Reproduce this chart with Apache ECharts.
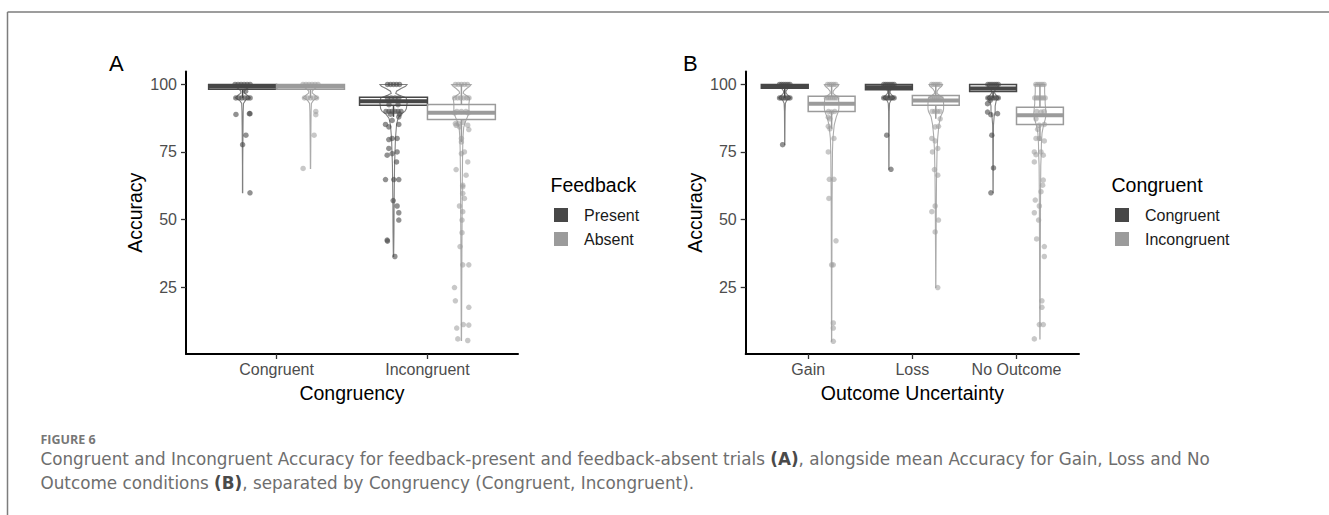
<!DOCTYPE html>
<html><head><meta charset="utf-8">
<script src="https://cdn.jsdelivr.net/npm/echarts@6/dist/echarts.min.js"></script>
<style>html,body{margin:0;padding:0;background:#fff}#c{width:1329px;height:515px}</style>
</head><body><div id="c"></div>
<script>
// ---------- categories / groups / ticks ----------
const catsA = ['Congruent', 'Incongruent'];
const groupsA = ['Present', 'Absent'];
const catsB = ['Gain', 'Loss', 'No Outcome'];
const groupsB = ['Congruent', 'Incongruent'];
const yTickValues = [25, 50, 75, 100];

// ---------- box stats: [lowWhisker, q1, median, q3, highWhisker] per category ----------
const boxA_Present = [[95, 98.2, 99.2, 100, 100], [88, 92.3, 93.8, 95.3, 95.3]];
const boxA_Absent = [[95, 98.2, 99.2, 100, 100], [78.7, 87, 89.5, 92.6, 100]];
const boxB_Congruent = [[95, 98.6, 99.3, 100, 100], [95, 98, 99, 100, 100], [95, 97.4, 98.5, 100, 100]];
const boxB_Incongruent = [[83.6, 90, 92.9, 95.6, 100], [87.3, 92.3, 94.1, 95.9, 100], [79.1, 85.2, 88.6, 91.6, 100]];

// ---------- violin outlines: [accuracy, relative half-density] ----------
const violA_Pres_Con = [[100,0.06],[99.3,0.05],[98.5,0.03],[97.6,0.012],[96.8,0.012],[96,0.03],[95,0.05],[94.2,0.02],[93,0.006],[90,0.004],[85,0.003],[78,0.002],[70,0.001],[59.9,0.001]];
const violA_Pres_Inc = [[100,0.09],[99.3,0.08],[98.5,0.05],[97.5,0.02],[96.7,0.015],[96,0.04],[95,0.085],[93,0.09],[91,0.085],[90,0.075],[89,0.05],[87.5,0.03],[85,0.02],[80,0.013],[75,0.01],[70,0.007],[65,0.006],[55,0.004],[45,0.003],[36.3,0.001]];
const violA_Abs_Con = [[100,0.06],[99.3,0.05],[98.5,0.03],[97.6,0.012],[96.8,0.012],[96,0.03],[95,0.05],[94.2,0.02],[93,0.006],[90,0.004],[85,0.003],[78,0.002],[68.9,0.001]];
const violA_Abs_Inc = [[100,0.065],[99.3,0.055],[98.5,0.035],[97.5,0.015],[96.7,0.012],[96,0.03],[95,0.055],[93,0.05],[91,0.05],[89.5,0.05],[88,0.04],[86,0.025],[84,0.015],[80,0.01],[75,0.008],[65,0.006],[55,0.005],[45,0.004],[35,0.003],[20,0.002],[5.2,0.001]];
const violB_Con_Gain = [[100,0.06],[99.3,0.05],[98.5,0.03],[97.6,0.012],[96.8,0.012],[96,0.03],[95,0.06],[94.2,0.02],[93,0.006],[90,0.003],[85,0.002],[77.7,0.001]];
const violB_Con_Loss = [[100,0.06],[99.3,0.05],[98.5,0.03],[97.6,0.012],[96.8,0.012],[96,0.03],[95,0.06],[94.2,0.02],[93,0.006],[90,0.003],[80,0.002],[68.6,0.001]];
const violB_Con_NoOut = [[100,0.06],[99.3,0.05],[98.5,0.03],[97.6,0.015],[96.8,0.015],[96,0.03],[95,0.06],[94,0.03],[92,0.02],[90,0.02],[88,0.01],[85,0.004],[80,0.003],[70,0.002],[59.9,0.001]];
const violB_Inc_Gain = [[100,0.07],[99.3,0.06],[98.5,0.035],[97.5,0.015],[96.7,0.013],[96,0.035],[95,0.065],[93,0.07],[91,0.07],[90,0.065],[88,0.045],[85,0.025],[80,0.012],[75,0.008],[65,0.006],[55,0.004],[40,0.003],[20,0.002],[4.9,0.001]];
const violB_Inc_Loss = [[100,0.065],[99.3,0.055],[98.5,0.03],[97.5,0.013],[96.7,0.012],[96,0.035],[95,0.07],[93,0.075],[91,0.075],[90,0.07],[88,0.045],[85,0.03],[80,0.018],[75,0.012],[65,0.007],[50,0.004],[35,0.002],[24.8,0.001]];
const violB_Inc_NoOut = [[100,0.05],[99.3,0.045],[98,0.045],[97,0.045],[96,0.047],[95,0.05],[93,0.05],[91,0.055],[89,0.06],[87,0.05],[85,0.035],[82,0.02],[78,0.014],[74,0.012],[70,0.008],[60,0.006],[50,0.005],[40,0.004],[25,0.003],[15,0.002],[5.8,0.001]];

// ---------- participant points: [accuracy, jitter] ----------
const ptsA_Pres_Con = [[100,-0.05],[100,-0.03],[100,-0.01],[100,0.01],[100,0.03],[100,0.05],[97.5,0.02],
  [95,-0.045],[95,-0.025],[95,-0.005],[95,0.015],[95,0.035],[95,0.05],
  [88.9,-0.044],[89.2,0.049],[89.2,0.045],[81.2,0.022],[77.7,0],[59.9,0.049]];
const ptsA_Pres_Inc = [[100,-0.04],[100,-0.02],[100,0],[100,0.02],[100,0.04],
  [95,-0.04],[95,-0.015],[95,0.01],[95,0.035],[92.5,-0.03],[92.5,0.03],
  [90,-0.05],[90,-0.03],[90,-0.01],[90,0.01],[90,0.03],[90,0.05],[89,-0.02],[89,0.04],
  [88,0.035],[86.7,-0.009],[85.2,-0.053],[85.2,0.035],[84.3,-0.031],[80,-0.009],[80,0.024],[79.6,-0.031],
  [76.3,-0.031],[75,0.024],[74.4,-0.009],[73.8,-0.042],[71.3,0.02],[64.8,-0.053],[64.8,0.002],[64.8,0.035],
  [57,-0.002],[55,0.024],[52.5,0.035],[49.8,0.035],[42.4,-0.042],[42,-0.04],[36.3,0.009]];
const ptsA_Abs_Con = [[100,-0.05],[100,-0.03],[100,-0.01],[100,0.01],[100,0.03],[100,0.05],
  [95,-0.04],[95,-0.02],[95,0],[95,0.02],[95,0.04],
  [90,0.035],[88.8,0.035],[81.2,0.024],[68.9,-0.049]];
const ptsA_Abs_Inc = [[100,-0.04],[100,-0.02],[100,0],[100,0.02],[100,0.04],
  [95,-0.045],[95,-0.025],[95,-0.005],[95,0.015],[95,0.035],[95,0.05],
  [90,-0.03],[90,0],[90,0.03],[89.5,-0.045],[89.5,0.045],[85.5,-0.04],[85.5,-0.02],[86,0.01],
  [84.9,-0.035],[84.3,-0.013],[84.9,0.042],[83.3,0.049],[80,0],[78.7,0],[75,0.02],[74.4,0],[71.3,0.042],
  [68.5,-0.035],[66.4,0.031],[62.7,0.009],[62.1,0.009],[59.7,0.009],[57.8,0.02],[55,-0.013],[52.9,0.009],
  [49.8,0.004],[45.1,0.004],[40,-0.009],[33.2,0.009],[33.2,0.049],[24.8,-0.046],[19.9,-0.04],[17.5,0.049],
  [9.8,-0.031],[11.1,0.013],[10.9,0.049],[5.8,-0.024],[5.2,0.042]];
const ptsB_Con_Gain = [[100,-0.05],[100,-0.03],[100,-0.01],[100,0.01],[100,0.03],[100,0.05],
  [95,-0.05],[95,-0.03],[95,-0.01],[95,0.01],[95,0.03],[95,0.05],[77.7,-0.021]];
const ptsB_Con_Loss = [[100,-0.05],[100,-0.03],[100,-0.01],[100,0.01],[100,0.03],[100,0.05],
  [95,-0.05],[95,-0.03],[95,-0.01],[95,0.01],[95,0.03],[95,0.05],[81.2,-0.021],[68.6,0.02]];
const ptsB_Con_NoOut = [[100,-0.05],[100,-0.03],[100,-0.01],[100,0.01],[100,0.03],[100,0.05],
  [95,-0.05],[95,-0.03],[95,-0.01],[95,0.01],[95,0.03],[95,0.05],
  [92.9,-0.053],[94.1,-0.028],[89.8,-0.053],[89.2,0.043],[88.8,-0.021],[81.2,-0.012],[69.1,0.004],[59.9,-0.021]];
const ptsB_Inc_Gain = [[100,-0.04],[100,-0.02],[100,0],[100,0.02],[100,0.04],
  [95,-0.05],[95,-0.03],[95,-0.01],[95,0.01],[95,0.03],[95,0.05],
  [89.8,0],[90,-0.03],[90,0.03],[87.9,-0.032],[87.3,-0.016],[84.5,-0.032],[83.6,-0.016],[80,0.022],[75,-0.032],
  [64.9,-0.022],[64.9,0.022],[57.8,-0.026],[42.1,0.042],[33.2,0],[33.2,0.016],[11.7,0.016],[9.8,0.016],[4.9,0.016]];
const ptsB_Inc_Loss = [[100,-0.04],[100,-0.02],[100,0],[100,0.02],[100,0.04],
  [95,-0.05],[95,-0.03],[95,-0.01],[95,0.01],[95,0.03],[95,0.05],
  [90,-0.035],[90,-0.01],[90,0.015],[90,0.04],
  [87.3,0.042],[84.3,-0.006],[84.5,0.026],[80,-0.038],[79.1,-0.006],[76.3,0.019],[75,-0.032],[68.5,-0.013],
  [66.4,0.019],[55,-0.006],[49.8,0.026],[52.9,-0.038],[45.4,-0.006],[24.8,0.019]];
const ptsB_Inc_NoOut = [[100,-0.04],[100,-0.02],[100,0],[100,0.02],[100,0.04],
  [95,-0.05],[95,-0.03],[95,-0.01],[95,0.01],[95,0.03],[95,0.05],
  [89.8,0.01],[90,-0.03],[90,0.04],[87.3,-0.038],[84.9,-0.006],[85.2,0.042],[83.4,-0.022],[80,-0.038],[80,-0.006],
  [79.1,0.042],[75,-0.054],[74,-0.038],[75,0.01],[73.8,0.032],[71.3,-0.054],[64.6,0.032],[62.7,0.026],[60.3,0.01],
  [57.2,-0.045],[55,-0.006],[52.5,-0.054],[49.8,-0.013],[42.8,-0.032],[40,0.042],[36.3,0.042],[19.9,0.019],
  [17.5,0.019],[11.1,-0.006],[11.1,0.032],[5.8,-0.054]];

// ---------- styling ----------
const DARK = '#474747', LIGHT = '#9b9b9b';
const VDARK = '#808080', VLIGHT = '#ababab';
const DODGE = 0.225, BOX_HALF = 0.225;
const AXIS_FONT = 'Liberation Sans';
const CAP_FONT = 'DejaVu Sans';
const CAP_SIZE = 16.8;

function boxRender(color) {
  return function (params, api) {
    const x = api.value(0);
    const lo = api.coord([x, api.value(1)]), q1 = api.coord([x, api.value(2)]);
    const md = api.coord([x, api.value(3)]), q3 = api.coord([x, api.value(4)]);
    const hi = api.coord([x, api.value(5)]);
    const l = api.coord([x - BOX_HALF, 0])[0], r = api.coord([x + BOX_HALF, 0])[0];
    const ls = {stroke: color, lineWidth: 1.5, fill: null};
    return {type: 'group', children: [
      {type: 'line', shape: {x1: lo[0], y1: lo[1], x2: q1[0], y2: q1[1]}, style: ls},
      {type: 'line', shape: {x1: q3[0], y1: q3[1], x2: hi[0], y2: hi[1]}, style: ls},
      {type: 'rect', shape: {x: l, y: q3[1], width: r - l, height: q1[1] - q3[1]}, style: {stroke: color, lineWidth: 1.5, fill: 'rgba(255,255,255,0)'}},
      {type: 'line', shape: {x1: l, y1: md[1], x2: r, y2: md[1]}, style: {stroke: color, lineWidth: 4}}
    ]};
  };
}
function violinRender(profiles, color) {
  return function (params, api) {
    const x = api.value(0);
    const prof = profiles[params.dataIndex];
    const right = prof.map(p => api.coord([x + p[1], p[0]]));
    const left = prof.slice().reverse().map(p => api.coord([x - p[1], p[0]]));
    return {type: 'polygon', shape: {points: right.concat(left)},
      style: {fill: 'rgba(255,255,255,0)', stroke: color, lineWidth: 1.1}};
  };
}
function groupSeries(name, gi, axisIdx, boxes, violins, ptsList, color, vcolor, alpha) {
  const off = gi === 0 ? -DODGE : DODGE;
  const pts = [];
  ptsList.forEach((list, ci) => list.forEach(p => pts.push([ci + 1 + off + p[1], p[0]])));
  return [
    {type: 'custom', name, xAxisIndex: axisIdx, yAxisIndex: axisIdx, silent: true,
      itemStyle: {color}, renderItem: violinRender(violins, vcolor),
      data: violins.map((v, ci) => [ci + 1 + off, 100]), z: 2},
    {type: 'custom', name, xAxisIndex: axisIdx, yAxisIndex: axisIdx, silent: true,
      itemStyle: {color}, renderItem: boxRender(color),
      data: boxes.map((b, ci) => [ci + 1 + off].concat(b)), z: 3},
    {type: 'scatter', name, xAxisIndex: axisIdx, yAxisIndex: axisIdx, silent: true,
      symbol: 'circle', symbolSize: 5.5, itemStyle: {color, opacity: alpha},
      data: pts, z: 4}
  ];
}

function xAxisDef(idx, cats, title) {
  const vals = cats.map((c, i) => i + 1);
  return {type: 'value', gridIndex: idx, min: 0.4, max: cats.length + 0.6,
    axisLine: {show: true, lineStyle: {color: '#000', width: 2}},
    axisTick: {show: true, customValues: vals, length: 5, lineStyle: {color: '#333', width: 1.3}},
    axisLabel: {customValues: vals, formatter: v => cats[Math.round(v) - 1], fontSize: 16,
      color: '#4d4d4d', margin: 7, fontFamily: AXIS_FONT},
    splitLine: {show: false},
    name: title, nameLocation: 'middle', nameGap: 29,
    nameTextStyle: {fontSize: 19.5, color: '#000', fontFamily: AXIS_FONT}};
}
function yAxisDef(idx) {
  return {type: 'value', gridIndex: idx, min: 0.2, max: 104.8,
    axisLine: {show: true, lineStyle: {color: '#000', width: 2}},
    axisTick: {show: true, customValues: yTickValues, length: 5, lineStyle: {color: '#333', width: 1.3}},
    axisLabel: {customValues: yTickValues, fontSize: 16, color: '#4d4d4d', margin: 9, fontFamily: AXIS_FONT},
    splitLine: {show: false},
    name: 'Accuracy', nameLocation: 'middle', nameGap: 41,
    nameTextStyle: {fontSize: 19.5, color: '#000', fontFamily: AXIS_FONT}};
}

const series = [].concat(
  groupSeries(groupsA[0], 0, 0, boxA_Present, [violA_Pres_Con, violA_Pres_Inc], [ptsA_Pres_Con, ptsA_Pres_Inc], DARK, VDARK, 0.6),
  groupSeries(groupsA[1], 1, 0, boxA_Absent, [violA_Abs_Con, violA_Abs_Inc], [ptsA_Abs_Con, ptsA_Abs_Inc], LIGHT, VLIGHT, 0.55),
  groupSeries(groupsB[0], 0, 1, boxB_Congruent, [violB_Con_Gain, violB_Con_Loss, violB_Con_NoOut], [ptsB_Con_Gain, ptsB_Con_Loss, ptsB_Con_NoOut], DARK, VDARK, 0.6),
  groupSeries(groupsB[1], 1, 1, boxB_Incongruent, [violB_Inc_Gain, violB_Inc_Loss, violB_Inc_NoOut], [ptsB_Inc_Gain, ptsB_Inc_Loss, ptsB_Inc_NoOut], LIGHT, VLIGHT, 0.55)
);

function legendDef(names, left) {
  return {data: names, left, top: 207, orient: 'vertical', icon: 'rect', itemWidth: 14, itemHeight: 14,
    itemGap: 8, padding: 0, selectedMode: false,
    textStyle: {fontSize: 16, color: '#1a1a1a', fontFamily: AXIS_FONT, padding: [0, 0, 0, 11]}};
}
function txt(x, y, text, size, extra) {
  return Object.assign({type: 'text', x, y, silent: true,
    style: Object.assign({text, fontSize: size, fontFamily: AXIS_FONT, fill: '#000', verticalAlign: 'middle'}, extra || {})});
}
const capRich = {b: {fontFamily: CAP_FONT, fontWeight: 'bold', fontSize: CAP_SIZE, fill: '#4a4a4a'}};

const chart = echarts.init(document.getElementById('c'), null, {renderer: 'svg'});
chart.setOption({
  animation: false,
  backgroundColor: '#fff',
  grid: [
    {left: 186, top: 71.5, width: 332, height: 282.5},
    {left: 745.7, top: 71.5, width: 333.3, height: 282.5}
  ],
  xAxis: [xAxisDef(0, catsA, 'Congruency'), xAxisDef(1, catsB, 'Outcome Uncertainty')],
  yAxis: [yAxisDef(0), yAxisDef(1)],
  legend: [legendDef(groupsA, 554), legendDef(groupsB, 1115)],
  series,
  graphic: [
    {type: 'line', silent: true, shape: {x1: 7.5, y1: 12, x2: 1329, y2: 12}, style: {stroke: '#7d7d7d', lineWidth: 1.5}},
    {type: 'line', silent: true, shape: {x1: 7.5, y1: 12, x2: 7.5, y2: 515}, style: {stroke: '#7d7d7d', lineWidth: 1.5}},
    txt(109, 63, 'A', 22),
    txt(683, 63, 'B', 22),
    txt(550.5, 185, 'Feedback', 19.5),
    txt(1111.5, 185, 'Congruent', 19.5),
    txt(40.5, 439.5, 'FIGURE 6', 12.5, {fontFamily: 'Open Sans', fontWeight: 'bold', fill: '#777'}),
    txt(40.5, 459, 'Congruent and Incongruent Accuracy for feedback-present and feedback-absent trials {b|(A)}, alongside mean Accuracy for Gain, Loss and No', CAP_SIZE,
      {fontFamily: CAP_FONT, fill: '#6e6e6e', rich: capRich}),
    txt(40.5, 483, 'Outcome conditions {b|(B)}, separated by Congruency (Congruent, Incongruent).', CAP_SIZE,
      {fontFamily: CAP_FONT, fill: '#6e6e6e', rich: capRich})
  ]
});
</script></body></html>
